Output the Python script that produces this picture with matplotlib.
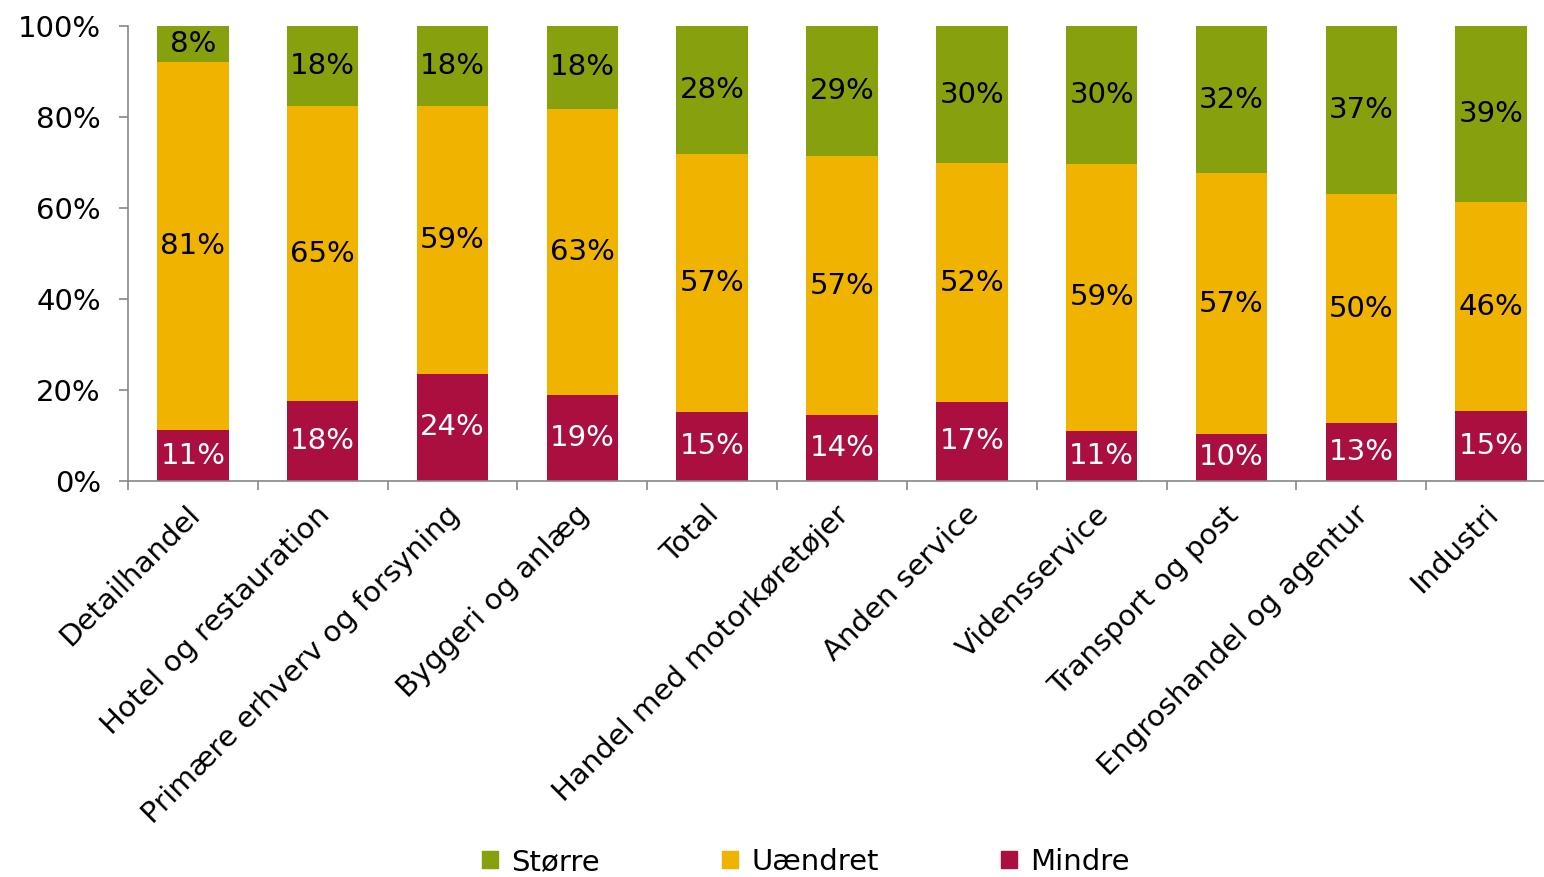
import matplotlib
matplotlib.use("Agg")
import matplotlib.pyplot as plt
from matplotlib.patches import Patch
import matplotlib.transforms as mtransforms
import numpy as np

plt.rcParams['font.family'] = ['DejaVu Sans']

categories = ["Detailhandel", "Hotel og restauration", "Primære erhverv og forsyning",
              "Byggeri og anlæg", "Total", "Handel med motorkøretøjer", "Anden service",
              "Vidensservice", "Transport og post", "Engroshandel og agentur", "Industri"]
mindre  = [11.2, 17.6, 23.6, 18.9, 15.2, 14.4, 17.4, 11.0, 10.4, 12.7, 15.3]
uaendret = [80.9, 64.8, 58.8, 62.9, 56.6, 57.0, 52.4, 58.7, 57.2, 50.4, 46.1]
stoerre = [7.9, 17.6, 17.6, 18.2, 28.2, 28.6, 30.2, 30.3, 32.4, 36.9, 38.6]
y_ticks = [0, 20, 40, 60, 80, 100]

c_m = "#AA0F3F"
c_u = "#F0B400"
c_s = "#87A00E"

fig = plt.figure(figsize=(15.44, 8.77), dpi=100)
W, H = 1544, 877
ax = fig.add_axes([128 / W, (H - 481) / H, 1428 / W, 455 / H])

x = np.arange(len(categories))
m = np.array(mindre); u = np.array(uaendret); s = np.array(stoerre)
bw = 0.55
ax.bar(x, m, bw, color=c_m, zorder=2)
ax.bar(x, u, bw, bottom=m, color=c_u, zorder=2)
ax.bar(x, s, bw, bottom=m + u, color=c_s, zorder=2)

fs = 21
for i in range(len(x)):
    ax.text(x[i], m[i] / 2, f"{round(m[i])}%", ha='center', va='center', color='white', fontsize=fs)
    ax.text(x[i], m[i] + u[i] / 2, f"{round(u[i])}%", ha='center', va='center', color='black', fontsize=fs)
    ax.text(x[i], m[i] + u[i] + s[i] / 2, f"{round(s[i])}%", ha='center', va='center', color='black', fontsize=fs)

ax.set_xlim(-0.5, len(categories) - 0.5)
ax.set_ylim(0, 100)
ax.set_yticks(y_ticks)
ax.set_yticklabels([f"{t}%" for t in y_ticks], fontsize=fs)
ax.tick_params(axis='y', length=6.5, width=1.2, color='#888888', pad=13)

ax.set_xticks(x)
ax.set_xticklabels(categories, rotation=45, ha='right', rotation_mode='anchor', fontsize=fs)
ax.tick_params(axis='x', which='major', length=0, pad=14)
ax.set_xticks(np.arange(-0.5, len(categories), 1.0), minor=True)
ax.tick_params(axis='x', which='minor', length=6.5, width=1.2, color='#888888')
offset = mtransforms.ScaledTranslation(-0.07, 0, fig.dpi_scale_trans)
for lbl in ax.get_xticklabels():
    lbl.set_transform(lbl.get_transform() + offset)

for sp in ['top', 'right']:
    ax.spines[sp].set_visible(False)
for sp in ['left', 'bottom']:
    ax.spines[sp].set_color('#888888')
    ax.spines[sp].set_linewidth(1.2)

handles = [Patch(color=c_s, label="Større"), Patch(color=c_u, label="Uændret"), Patch(color=c_m, label="Mindre")]
fig.legend(handles=handles, loc='center', bbox_to_anchor=(806 / W, (H - 862) / H), ncol=3,
           frameon=False, fontsize=fs, handlelength=0.55, handleheight=0.55,
           handletextpad=0.45, columnspacing=4.2)

fig.savefig("out.png", dpi=100)
